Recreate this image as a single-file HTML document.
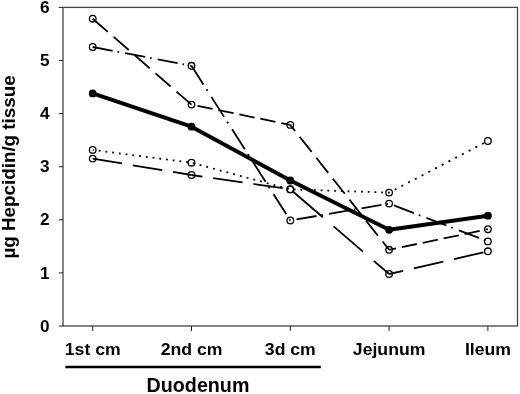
<!DOCTYPE html>
<html><head><meta charset="utf-8"><title>Hepcidin</title>
<style>
html,body{margin:0;padding:0;background:#fff;}
svg{display:block;font-family:"Liberation Sans",Arial,sans-serif;font-weight:bold;fill:#000;}
</style></head><body>
<svg width="520" height="394" viewBox="0 0 520 394">
<rect width="520" height="394" fill="#fff"/>
<rect x="63.0" y="7.4" width="454.5" height="318.6" fill="none" stroke="#444" stroke-width="1.3"/>
<g stroke="#222" stroke-width="1">
<line x1="58.8" y1="326.00" x2="63.0" y2="326.00"/>
<line x1="58.8" y1="272.90" x2="63.0" y2="272.90"/>
<line x1="58.8" y1="219.80" x2="63.0" y2="219.80"/>
<line x1="58.8" y1="166.70" x2="63.0" y2="166.70"/>
<line x1="58.8" y1="113.60" x2="63.0" y2="113.60"/>
<line x1="58.8" y1="60.50" x2="63.0" y2="60.50"/>
<line x1="58.8" y1="7.40" x2="63.0" y2="7.40"/>
<line x1="92.7" y1="326.0" x2="92.7" y2="331.0"/>
<line x1="191.5" y1="326.0" x2="191.5" y2="331.0"/>
<line x1="290.3" y1="326.0" x2="290.3" y2="331.0"/>
<line x1="389.1" y1="326.0" x2="389.1" y2="331.0"/>
<line x1="487.9" y1="326.0" x2="487.9" y2="331.0"/>
</g>
<g font-size="17.2px">
<text transform="translate(49.5 331.60) scale(1 1)" text-anchor="end">0</text>
<text transform="translate(49.5 278.50) scale(1 1)" text-anchor="end">1</text>
<text transform="translate(49.5 225.40) scale(1 1)" text-anchor="end">2</text>
<text transform="translate(49.5 172.30) scale(1 1)" text-anchor="end">3</text>
<text transform="translate(49.5 119.20) scale(1 1)" text-anchor="end">4</text>
<text transform="translate(49.5 66.10) scale(1 1)" text-anchor="end">5</text>
<text transform="translate(49.5 13.00) scale(1 1)" text-anchor="end">6</text>
<text transform="translate(92.7 355.3) scale(1.026 1)" text-anchor="middle">1st cm</text>
<text transform="translate(191.5 355.3) scale(1.026 1)" text-anchor="middle">2nd cm</text>
<text transform="translate(290.3 355.3) scale(1.026 1)" text-anchor="middle">3d cm</text>
<text transform="translate(389.1 355.3) scale(1.026 1)" text-anchor="middle">Jejunum</text>
<text transform="translate(487.9 355.3) scale(1.026 1)" text-anchor="middle">Ileum</text>
</g>
<line x1="65.4" y1="367.0" x2="320.8" y2="367.0" stroke="#000" stroke-width="2.7"/>
<text transform="translate(198 391.7)" font-size="19.7px" text-anchor="middle">Duodenum</text>
<text transform="translate(15.2 166.95) rotate(-90) scale(1.012 1)" font-size="18.6px" text-anchor="middle">µg Hepcidin/g tissue</text>
<g stroke="#000" stroke-width="1.8" fill="none">
<line x1="92.7" y1="18.7" x2="191.5" y2="104.6" stroke-dasharray="20.01 7.75" stroke-dashoffset="0.00"/>
<line x1="191.5" y1="104.6" x2="290.3" y2="124.9" stroke-dasharray="15.42 5.97" stroke-dashoffset="15.31"/>
<line x1="290.3" y1="124.9" x2="389.1" y2="249.8" stroke-dasharray="19.25 7.46" stroke-dashoffset="11.54"/>
<line x1="389.1" y1="249.8" x2="487.9" y2="229.2" stroke-dasharray="15.42 5.98" stroke-dashoffset="8.43"/>
<line x1="92.7" y1="47.0" x2="191.5" y2="65.8" stroke-dasharray="20.36 4.94 1.63 6.13" stroke-dashoffset="0.00"/>
<line x1="191.5" y1="65.8" x2="290.3" y2="220.5" stroke-dasharray="23.73 5.75 1.90 7.14" stroke-dashoffset="1.65"/>
<line x1="290.3" y1="220.5" x2="389.1" y2="203.6" stroke-dasharray="20.29 4.92 1.62 6.11" stroke-dashoffset="26.59"/>
<line x1="389.1" y1="203.6" x2="487.9" y2="241.4" stroke-dasharray="21.41 5.19 1.71 6.45" stroke-dashoffset="29.55"/>
<line x1="92.7" y1="149.9" x2="191.5" y2="162.7" stroke-dasharray="1.82 4.97" stroke-dashoffset="0.76"/>
<line x1="191.5" y1="162.7" x2="290.3" y2="189.4" stroke-dasharray="1.86 5.10" stroke-dashoffset="5.56"/>
<line x1="290.3" y1="189.4" x2="389.1" y2="192.6" stroke-dasharray="1.80 4.93" stroke-dashoffset="3.27"/>
<line x1="389.1" y1="192.6" x2="487.9" y2="141.0" stroke-dasharray="2.03 5.56" stroke-dashoffset="1.31"/>
<line x1="92.7" y1="158.6" x2="191.5" y2="175.0" stroke-dasharray="29.80 10.90" stroke-dashoffset="0.00"/>
<line x1="191.5" y1="175.0" x2="290.3" y2="189.3" stroke-dasharray="29.71 10.86" stroke-dashoffset="18.69"/>
<line x1="290.3" y1="189.3" x2="389.1" y2="274.0" stroke-dasharray="38.72 14.16" stroke-dashoffset="48.74"/>
<line x1="389.1" y1="274.0" x2="487.9" y2="251.3" stroke-dasharray="30.17 11.03" stroke-dashoffset="15.75"/>
</g>
<polyline points="92.7,93.4 191.5,126.7 290.3,180.5 389.1,229.8 487.9,215.7" fill="none" stroke="#000" stroke-width="3.9" stroke-linejoin="round"/>
<g fill="none" stroke="#000" stroke-width="1.3">
<circle cx="92.7" cy="18.7" r="3.3"/>
<circle cx="191.5" cy="104.6" r="3.3"/>
<circle cx="290.3" cy="124.9" r="3.3"/>
<circle cx="389.1" cy="249.8" r="3.3"/>
<circle cx="487.9" cy="229.2" r="3.3"/>
<circle cx="92.7" cy="47.0" r="3.3"/>
<circle cx="191.5" cy="65.8" r="3.3"/>
<circle cx="290.3" cy="220.5" r="3.3"/>
<circle cx="389.1" cy="203.6" r="3.3"/>
<circle cx="487.9" cy="241.4" r="3.3"/>
<circle cx="92.7" cy="149.9" r="3.3"/>
<circle cx="191.5" cy="162.7" r="3.3"/>
<circle cx="290.3" cy="189.4" r="3.3"/>
<circle cx="389.1" cy="192.6" r="3.3"/>
<circle cx="487.9" cy="141.0" r="3.3"/>
<circle cx="92.7" cy="158.6" r="3.3"/>
<circle cx="191.5" cy="175.0" r="3.3"/>
<circle cx="290.3" cy="189.3" r="3.3"/>
<circle cx="389.1" cy="274.0" r="3.3"/>
<circle cx="487.9" cy="251.3" r="3.3"/>
</g>
<g fill="#000">
<circle cx="92.7" cy="93.4" r="3.9"/>
<circle cx="191.5" cy="126.7" r="3.9"/>
<circle cx="290.3" cy="180.5" r="3.9"/>
<circle cx="389.1" cy="229.8" r="3.9"/>
<circle cx="487.9" cy="215.7" r="3.9"/>
</g>
</svg>
</body></html>
